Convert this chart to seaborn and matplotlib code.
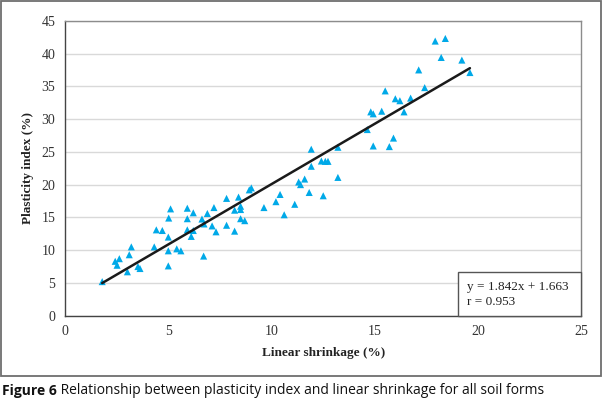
import matplotlib
matplotlib.use('Agg')
import matplotlib.pyplot as plt
from matplotlib.patches import Rectangle
import numpy as np
import pandas as pd
import seaborn as sns

# linear shrinkage (%) and plasticity index (%)
linear_shrinkage = [1.8, 2.43, 2.63, 2.52, 3.02, 3.21, 3.11, 3.53, 3.63, 4.32,
                    4.42, 4.71, 5.0, 5.0, 5.0, 5.41, 5.61, 5.11, 5.02, 5.92,
                    6.21, 5.92, 5.92, 6.11, 6.71, 6.89, 7.21, 6.63, 6.73, 7.12,
                    7.31, 7.82, 7.82, 8.21, 8.21, 8.4, 8.5, 8.5, 8.5, 8.7,
                    8.92, 9.02, 9.63, 10.21, 10.41, 10.61, 11.12, 11.31, 11.4, 11.6,
                    11.82, 12.5, 11.92, 11.92, 12.41, 12.6, 12.73, 13.21, 13.21, 14.63,
                    14.92, 14.8, 14.92, 15.33, 15.7, 15.9, 15.5, 15.99, 16.21, 16.41,
                    16.73, 17.12, 17.41, 17.92, 18.41, 18.21, 19.21, 19.6, 6.21]
plasticity_index = [5.2, 8.3, 8.7, 7.7, 6.7, 10.5, 9.3, 7.5, 7.2, 10.5,
                    13.1, 13.0, 12.0, 9.9, 7.6, 10.2, 9.9, 16.3, 14.9, 16.4,
                    15.7, 14.8, 13.1, 12.1, 9.1, 15.6, 16.5, 14.75, 14.0, 13.7,
                    12.8, 17.9, 13.8, 12.9, 16.1, 18.1, 16.7, 16.2, 14.8, 14.5,
                    19.2, 19.5, 16.5, 17.4, 18.5, 15.4, 17.0, 20.4, 20.0, 20.85,
                    18.8, 18.3, 22.8, 25.4, 23.6, 23.55, 23.55, 25.7, 21.1, 28.4,
                    25.9, 31.1, 30.8, 31.2, 25.8, 27.1, 34.3, 33.1, 32.8, 31.1,
                    33.2, 37.5, 34.8, 41.9, 42.3, 39.4, 39.0, 37.1, 13.0]

slope = 1.842
intercept = 1.663
r_value = 0.953

x_ticks = [0, 5, 10, 15, 20, 25]
y_ticks = [0, 5, 10, 15, 20, 25, 30, 35, 40, 45]

df = pd.DataFrame({'LS': linear_shrinkage, 'PI': plasticity_index})

xfit = np.array([df['LS'].min(), df['LS'].max()])
fit_df = pd.DataFrame({'LS': xfit, 'PI': slope * xfit + intercept})

sns.set_style('white')
serif = ['Liberation Serif', 'DejaVu Serif']

fig = plt.figure(figsize=(6.03, 4.07), dpi=100)
ax = fig.add_axes([0.1078, 0.2243, 0.8565, 0.7247])

ax.grid(axis='y', color='#d9d9d9', linewidth=1.0)
ax.set_axisbelow(True)

sns.scatterplot(data=df, x='LS', y='PI', marker='^', s=26, color='#00a9e8',
                edgecolor='none', linewidth=0, ax=ax, zorder=3)
sns.lineplot(data=fit_df, x='LS', y='PI', color='#1a1a1a', linewidth=1.8,
             ax=ax, zorder=4)

ax.set_xlim(0, 25)
ax.set_ylim(0, 45)
ax.set_xticks(x_ticks)
ax.set_yticks(y_ticks)
ax.tick_params(axis='both', direction='out', length=4, width=0.8, color='#444444',
               labelsize=10, pad=3, labelcolor='#333333')
for lab in ax.get_xticklabels() + ax.get_yticklabels():
    lab.set_family(serif)

for side in ['left', 'bottom']:
    ax.spines[side].set_color('#444444')
    ax.spines[side].set_linewidth(1.0)
for side in ['top', 'right']:
    ax.spines[side].set_color('#8c8c8c')
    ax.spines[side].set_linewidth(1.0)

ax.set_xlabel('Linear shrinkage (%)', family=serif, fontsize=9.5,
              fontweight='bold', color='#222222', labelpad=6)
ax.set_ylabel('Plasticity index (%)', family=serif, fontsize=9.5,
              fontweight='bold', color='#222222', labelpad=5)

# equation box in the lower right corner
ax.add_patch(Rectangle((0.7615, 0.0), 0.2385, 0.148, transform=ax.transAxes,
                       facecolor='white', edgecolor='#555555', linewidth=1.0,
                       zorder=5, clip_on=False))
ax.text(0.778, 0.098, 'y = %.3fx + %.3f' % (slope, intercept), transform=ax.transAxes,
        family=serif, fontsize=9.5, color='#222222', va='center', ha='left', zorder=6)
ax.text(0.778, 0.045, 'r = %.3f' % r_value, transform=ax.transAxes,
        family=serif, fontsize=9.5, color='#222222', va='center', ha='left', zorder=6)

# outer frame around the chart
fig.patches.append(Rectangle((0.002, 0.077), 0.995, 0.921, transform=fig.transFigure,
                             fill=False, edgecolor='#6e6e6e', linewidth=1.3))

# caption
cap_font = ['Open Sans', 'DejaVu Sans']
t1 = fig.text(0.004, 0.040, 'Figure 6', family=cap_font, fontsize=10,
              fontweight='bold', color='#111111', va='center', ha='left')
fig.canvas.draw()
bb = t1.get_window_extent(renderer=fig.canvas.get_renderer())
x_next = bb.x1 / fig.bbox.width
fig.text(x_next, 0.040, ' Relationship between plasticity index and linear shrinkage for all soil forms',
         family=cap_font, fontsize=10, color='#111111', va='center', ha='left')

fig.savefig('out.png', dpi=100)
